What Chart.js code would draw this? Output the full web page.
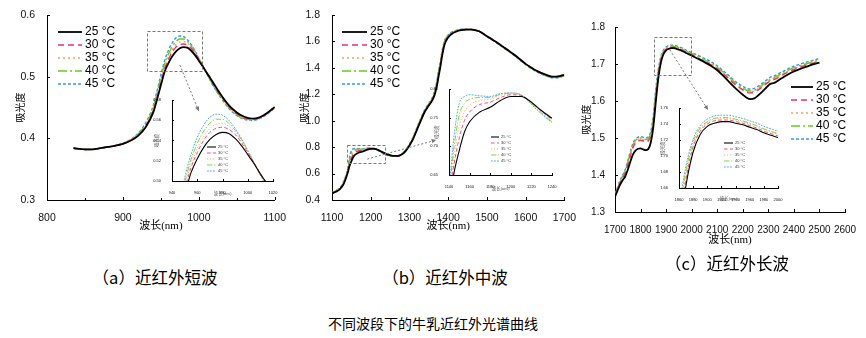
<!DOCTYPE html>
<html>
<head>
<meta charset="utf-8">
<script src="https://cdn.jsdelivr.net/npm/chart.js@4.4.0/dist/chart.umd.min.js"></script>
<style>
  body { margin: 0; background: #fff; }
  #page { position: relative; width: 866px; height: 338px; overflow: hidden; background: #fff; }
  #page canvas { position: absolute; }
  .caption {
    position: absolute;
    transform: translate(-50%, -50%);
    font-family: "Noto Sans CJK SC", sans-serif;
    font-size: 16.5px;
    line-height: 1;
    color: #000;
    white-space: nowrap;
  }
</style>
</head>
<body>
<div id="page">
  <canvas id="chartShort" width="290" height="240" style="left:0;top:0"></canvas>
  <canvas id="chartMid" width="290" height="240" style="left:290px;top:0"></canvas>
  <canvas id="chartLong" width="286" height="250" style="left:580px;top:0"></canvas>
  <canvas id="insetShort" width="135" height="106" style="left:145px;top:92px"></canvas>
  <canvas id="insetMid" width="140" height="110" style="left:420px;top:82px"></canvas>
  <canvas id="insetLong" width="136" height="105" style="left:650px;top:100px"></canvas>
  <div class="caption" style="left:155px;top:277px">（a）近红外短波</div>
  <div class="caption" style="left:445px;top:277px">（b）近红外中波</div>
  <div class="caption" style="left:727px;top:263px">（c）近红外长波</div>
  <div class="caption" style="left:433px;top:323px;font-size:14px">不同波段下的牛乳近红外光谱曲线</div>
</div>
<script>
const TEMPS = ["25 °C", "30 °C", "35 °C", "40 °C", "45 °C"];

// short wave band (nm / absorbance)
const waveShort = [835, 850, 860, 870, 880, 890, 900, 910, 920, 930, 940, 945, 950, 955, 960, 965, 970, 975,
  980, 985, 990, 995, 1000, 1005, 1010, 1015, 1020, 1030, 1040, 1050, 1060, 1070, 1080, 1090, 1100];
const short25 = [0.384, 0.382, 0.382, 0.384, 0.386, 0.388, 0.391, 0.396, 0.404, 0.418, 0.442, 0.463, 0.486, 0.508, 0.522, 0.533, 0.541, 0.546,
  0.548, 0.547, 0.542, 0.535, 0.526, 0.517, 0.507, 0.498, 0.488, 0.469, 0.453, 0.442, 0.435, 0.432, 0.434, 0.441, 0.451];
const short30 = [0.384, 0.382, 0.382, 0.384, 0.386, 0.388, 0.391, 0.396, 0.405, 0.420, 0.445, 0.467, 0.491, 0.513, 0.528, 0.540, 0.548, 0.552,
  0.553, 0.551, 0.546, 0.538, 0.528, 0.518, 0.507, 0.497, 0.486, 0.467, 0.451, 0.440, 0.433, 0.431, 0.433, 0.440, 0.450];
const short35 = [0.384, 0.382, 0.382, 0.384, 0.386, 0.388, 0.391, 0.397, 0.406, 0.421, 0.447, 0.470, 0.494, 0.517, 0.532, 0.544, 0.552, 0.556,
  0.557, 0.554, 0.548, 0.540, 0.529, 0.518, 0.507, 0.496, 0.485, 0.466, 0.450, 0.439, 0.432, 0.430, 0.433, 0.440, 0.450];
const short40 = [0.384, 0.382, 0.382, 0.384, 0.386, 0.388, 0.392, 0.397, 0.407, 0.423, 0.450, 0.473, 0.498, 0.521, 0.537, 0.549, 0.557, 0.561,
  0.561, 0.557, 0.550, 0.541, 0.530, 0.518, 0.506, 0.495, 0.484, 0.465, 0.449, 0.438, 0.432, 0.430, 0.433, 0.440, 0.450];
const short45 = [0.384, 0.382, 0.382, 0.384, 0.386, 0.388, 0.392, 0.398, 0.408, 0.425, 0.453, 0.477, 0.503, 0.526, 0.543, 0.555, 0.563, 0.566,
  0.565, 0.560, 0.552, 0.542, 0.530, 0.518, 0.506, 0.494, 0.483, 0.464, 0.448, 0.437, 0.431, 0.429, 0.432, 0.439, 0.449];

// middle wave band
const waveMid = [1100, 1110, 1120, 1130, 1140, 1145, 1150, 1155, 1160, 1170, 1180, 1190, 1200, 1210, 1220, 1230, 1240, 1250,
  1260, 1270, 1280, 1290, 1300, 1310, 1320, 1330, 1340, 1350, 1360, 1365, 1370, 1375, 1380, 1385, 1390, 1400, 1410, 1420,
  1430, 1440, 1450, 1460, 1470, 1480, 1500, 1520, 1540, 1560, 1580, 1600, 1620, 1640, 1660, 1670, 1680, 1690, 1700];
const mid25 = [0.450, 0.462, 0.480, 0.520, 0.600, 0.655, 0.693, 0.725, 0.743, 0.760, 0.768, 0.780, 0.787, 0.787, 0.777, 0.762, 0.749, 0.740,
  0.734, 0.734, 0.745, 0.770, 0.812, 0.865, 0.935, 1.005, 1.070, 1.115, 1.160, 1.195, 1.250, 1.330, 1.410, 1.500, 1.570, 1.630, 1.658, 1.673,
  1.683, 1.688, 1.690, 1.689, 1.685, 1.677, 1.640, 1.603, 1.563, 1.522, 1.478, 1.430, 1.392, 1.362, 1.340, 1.333, 1.333, 1.340, 1.346];
const mid30 = [0.452, 0.465, 0.484, 0.526, 0.610, 0.670, 0.715, 0.745, 0.760, 0.773, 0.777, 0.785, 0.790, 0.789, 0.777, 0.761, 0.747, 0.738,
  0.733, 0.734, 0.746, 0.772, 0.815, 0.870, 0.940, 1.010, 1.075, 1.120, 1.167, 1.205, 1.262, 1.345, 1.425, 1.515, 1.582, 1.638, 1.663, 1.677,
  1.686, 1.690, 1.692, 1.691, 1.687, 1.679, 1.643, 1.606, 1.566, 1.525, 1.481, 1.433, 1.394, 1.363, 1.340, 1.332, 1.331, 1.337, 1.343];
const mid35 = [0.453, 0.467, 0.487, 0.530, 0.615, 0.685, 0.735, 0.760, 0.772, 0.780, 0.782, 0.789, 0.792, 0.790, 0.776, 0.759, 0.745, 0.736,
  0.732, 0.733, 0.746, 0.773, 0.817, 0.873, 0.944, 1.014, 1.078, 1.123, 1.171, 1.211, 1.270, 1.355, 1.435, 1.523, 1.588, 1.642, 1.666, 1.679,
  1.688, 1.692, 1.693, 1.691, 1.687, 1.678, 1.641, 1.603, 1.563, 1.521, 1.477, 1.429, 1.390, 1.359, 1.336, 1.329, 1.329, 1.335, 1.341];
const mid40 = [0.454, 0.469, 0.490, 0.534, 0.620, 0.700, 0.755, 0.775, 0.782, 0.785, 0.785, 0.791, 0.793, 0.790, 0.775, 0.758, 0.743, 0.734,
  0.731, 0.733, 0.747, 0.775, 0.820, 0.876, 0.948, 1.018, 1.082, 1.127, 1.176, 1.218, 1.278, 1.365, 1.445, 1.531, 1.594, 1.646, 1.669, 1.681,
  1.689, 1.693, 1.693, 1.691, 1.686, 1.677, 1.639, 1.601, 1.560, 1.518, 1.474, 1.426, 1.387, 1.356, 1.333, 1.327, 1.327, 1.333, 1.339];
const mid45 = [0.455, 0.471, 0.493, 0.540, 0.630, 0.720, 0.775, 0.787, 0.790, 0.788, 0.787, 0.792, 0.793, 0.789, 0.773, 0.756, 0.742, 0.733,
  0.730, 0.733, 0.748, 0.777, 0.823, 0.880, 0.952, 1.022, 1.086, 1.131, 1.181, 1.225, 1.286, 1.375, 1.455, 1.540, 1.600, 1.650, 1.672, 1.683,
  1.690, 1.694, 1.694, 1.691, 1.686, 1.676, 1.637, 1.599, 1.558, 1.516, 1.472, 1.424, 1.385, 1.354, 1.331, 1.325, 1.325, 1.331, 1.337];

// long wave band
const waveLong = [1700, 1710, 1720, 1730, 1740, 1750, 1760, 1770, 1780, 1790, 1800, 1810, 1820, 1830, 1840, 1850, 1860, 1870,
  1880, 1890, 1900, 1910, 1920, 1930, 1940, 1950, 1960, 1970, 1980, 1990, 2000, 2025, 2050, 2075, 2100, 2125, 2150, 2175,
  2200, 2215, 2230, 2245, 2260, 2280, 2300, 2310, 2320, 2340, 2360, 2380, 2400, 2425, 2450, 2475, 2500];
const long25 = [1.341, 1.358, 1.374, 1.386, 1.396, 1.414, 1.436, 1.455, 1.466, 1.471, 1.472, 1.469, 1.467, 1.470, 1.488, 1.530, 1.600, 1.664,
  1.705, 1.727, 1.737, 1.741, 1.743, 1.743, 1.741, 1.739, 1.736, 1.733, 1.729, 1.726, 1.723, 1.714, 1.705, 1.695, 1.683, 1.667, 1.649, 1.632,
  1.617, 1.609, 1.605, 1.607, 1.615, 1.628, 1.642, 1.647, 1.648, 1.656, 1.665, 1.673, 1.680, 1.687, 1.693, 1.699, 1.704];
const long30 = [1.345, 1.362, 1.379, 1.392, 1.405, 1.427, 1.452, 1.474, 1.486, 1.492, 1.494, 1.492, 1.489, 1.492, 1.506, 1.545, 1.612, 1.672,
  1.711, 1.731, 1.740, 1.744, 1.745, 1.745, 1.743, 1.741, 1.738, 1.735, 1.731, 1.728, 1.725, 1.716, 1.707, 1.698, 1.687, 1.673, 1.657, 1.642,
  1.630, 1.624, 1.622, 1.624, 1.630, 1.640, 1.651, 1.655, 1.657, 1.664, 1.672, 1.679, 1.685, 1.692, 1.697, 1.702, 1.707];
const long35 = [1.346, 1.364, 1.381, 1.395, 1.408, 1.431, 1.456, 1.478, 1.490, 1.496, 1.498, 1.496, 1.493, 1.496, 1.510, 1.550, 1.620, 1.678,
  1.714, 1.733, 1.742, 1.746, 1.747, 1.747, 1.745, 1.743, 1.740, 1.737, 1.733, 1.730, 1.727, 1.718, 1.709, 1.700, 1.689, 1.675, 1.660, 1.645,
  1.633, 1.627, 1.625, 1.627, 1.633, 1.643, 1.653, 1.658, 1.660, 1.667, 1.675, 1.682, 1.688, 1.694, 1.699, 1.704, 1.709];
const long40 = [1.347, 1.365, 1.383, 1.397, 1.410, 1.434, 1.459, 1.481, 1.493, 1.498, 1.500, 1.498, 1.496, 1.499, 1.513, 1.555, 1.626, 1.682,
  1.717, 1.735, 1.743, 1.747, 1.748, 1.748, 1.746, 1.744, 1.741, 1.738, 1.734, 1.731, 1.728, 1.720, 1.711, 1.702, 1.691, 1.677, 1.662, 1.647,
  1.635, 1.629, 1.627, 1.629, 1.635, 1.645, 1.655, 1.660, 1.662, 1.669, 1.677, 1.684, 1.690, 1.696, 1.701, 1.706, 1.711];
const long45 = [1.349, 1.367, 1.386, 1.400, 1.414, 1.438, 1.463, 1.485, 1.497, 1.502, 1.504, 1.502, 1.500, 1.503, 1.518, 1.562, 1.635, 1.688,
  1.721, 1.738, 1.746, 1.750, 1.751, 1.751, 1.749, 1.747, 1.744, 1.741, 1.737, 1.734, 1.731, 1.723, 1.715, 1.706, 1.695, 1.681, 1.666, 1.651,
  1.640, 1.634, 1.632, 1.634, 1.640, 1.650, 1.660, 1.665, 1.667, 1.674, 1.681, 1.688, 1.694, 1.700, 1.705, 1.710, 1.715];

const LINE_COLORS = ["#000000", "#e8336b", "#f2a35e", "#66cc1a", "#3399dd"];
const LINE_DASHES = [[], [6, 4], [2, 3], [9, 3, 2, 3], [3, 2]];

const NUM_FONT = '"Liberation Sans", sans-serif';
const CJK_FONT = '"Liberation Serif", "Noto Sans CJK SC", serif';

const buildDatasets = (waves, series, k) =>
  series.map((values, i) => ({
    label: TEMPS[i],
    data: waves.map((w, j) => ({ x: w, y: values[j] })),
    borderColor: LINE_COLORS[i],
    borderDash: LINE_DASHES[i].map((d) => d * k),
    borderWidth: (i === 0 ? 1.8 : 1.4) * k,
    pointRadius: 0,
    fill: false,
  }));

// inward tick marks, optional minor ticks on x
const tickMarks = {
  id: "tickMarks",
  afterDraw(chart, args, opts) {
    const { ctx, chartArea } = chart;
    const { x, y } = chart.scales;
    const len = opts.length || 3;
    ctx.save();
    ctx.strokeStyle = "#000";
    ctx.lineWidth = 1;
    ctx.beginPath();
    x.ticks.forEach((t, i) => {
      const px = Math.round(x.getPixelForValue(t.value)) + 0.5;
      ctx.moveTo(px, chartArea.bottom);
      ctx.lineTo(px, chartArea.bottom - len);
      if (opts.minorX && i < x.ticks.length - 1) {
        const mx = Math.round(x.getPixelForValue((t.value + x.ticks[i + 1].value) / 2)) + 0.5;
        ctx.moveTo(mx, chartArea.bottom);
        ctx.lineTo(mx, chartArea.bottom - len * 0.6);
      }
    });
    y.ticks.forEach((t) => {
      const py = Math.round(y.getPixelForValue(t.value)) + 0.5;
      ctx.moveTo(chartArea.left, py);
      ctx.lineTo(chartArea.left + len, py);
    });
    ctx.stroke();
    ctx.restore();
  },
};

// legend drawn with each dataset's own stroke
const lineLegend = {
  id: "lineLegend",
  afterDatasetsDraw(chart, args, opts) {
    if (opts.x === undefined) return;
    const { ctx } = chart;
    ctx.save();
    chart.data.datasets.forEach((ds, i) => {
      const y = opts.y + i * opts.gap;
      ctx.strokeStyle = ds.borderColor;
      ctx.lineWidth = ds.borderWidth;
      ctx.setLineDash(ds.borderDash);
      ctx.beginPath();
      ctx.moveTo(opts.x, y);
      ctx.lineTo(opts.x + opts.len, y);
      ctx.stroke();
      ctx.setLineDash([]);
      ctx.fillStyle = opts.color;
      ctx.font = opts.font;
      ctx.textBaseline = "middle";
      ctx.fillText(ds.label, opts.x + opts.len + opts.space, y);
    });
    ctx.restore();
  },
};

// dashed frame around the magnified region plus a pointer to the inset
const zoomBox = {
  id: "zoomBox",
  afterDatasetsDraw(chart, args, opts) {
    if (!opts.box) return;
    const { ctx } = chart;
    const { x, y } = chart.scales;
    const [bx0, bx1, by0, by1] = opts.box;
    const [ax0, ay0, ax1, ay1] = opts.arrow;
    ctx.save();
    ctx.strokeStyle = "#777";
    ctx.lineWidth = 1;
    ctx.setLineDash([3, 2]);
    const left = x.getPixelForValue(bx0);
    const right = x.getPixelForValue(bx1);
    const top = y.getPixelForValue(by1);
    const bottom = y.getPixelForValue(by0);
    ctx.strokeRect(Math.round(left) + 0.5, Math.round(top) + 0.5, Math.round(right - left), Math.round(bottom - top));
    const sx = x.getPixelForValue(ax0);
    const sy = y.getPixelForValue(ay0);
    const ex = x.getPixelForValue(ax1);
    const ey = y.getPixelForValue(ay1);
    ctx.setLineDash([2, 2]);
    ctx.beginPath();
    ctx.moveTo(sx, sy);
    ctx.lineTo(ex, ey);
    ctx.stroke();
    const ang = Math.atan2(ey - sy, ex - sx);
    ctx.setLineDash([]);
    ctx.fillStyle = "#777";
    ctx.beginPath();
    ctx.moveTo(ex, ey);
    ctx.lineTo(ex - 5 * Math.cos(ang - 0.45), ey - 5 * Math.sin(ang - 0.45));
    ctx.lineTo(ex - 5 * Math.cos(ang + 0.45), ey - 5 * Math.sin(ang + 0.45));
    ctx.closePath();
    ctx.fill();
    ctx.restore();
  },
};

const makeChart = (id, waves, series, cfg) =>
  new Chart(document.getElementById(id), {
    type: "line",
    data: { datasets: buildDatasets(waves, series, cfg.k) },
    options: {
      responsive: false,
      animation: false,
      events: [],
      layout: { padding: cfg.padding },
      elements: { line: { cubicInterpolationMode: "monotone" } },
      plugins: {
        legend: { display: false },
        tooltip: { enabled: false },
        tickMarks: cfg.ticks,
        lineLegend: cfg.legend,
        zoomBox: cfg.zoom || {},
      },
      scales: {
        x: {
          type: "linear",
          min: cfg.x[0],
          max: cfg.x[1],
          afterFit: (s) => { s.height = cfg.xHeight; },
          grid: { display: false },
          border: { display: true, color: "#000", width: 1 },
          ticks: {
            stepSize: cfg.x[2],
            autoSkip: false,
            maxRotation: 0,
            padding: cfg.tickPad[0],
            color: "#111",
            font: { family: NUM_FONT, size: cfg.tickSize },
            callback: (v) => String(v),
          },
          title: {
            display: true,
            text: "波长(nm)",
            color: cfg.titleColor,
            font: { family: CJK_FONT, size: cfg.titleSize[0] },
            padding: { top: 0, bottom: cfg.titlePad[0] },
          },
        },
        y: {
          type: "linear",
          min: cfg.y[0],
          max: cfg.y[1],
          afterFit: (s) => { s.width = cfg.yWidth; },
          grid: { display: false },
          border: { display: true, color: "#000", width: 1 },
          ticks: {
            stepSize: cfg.y[2],
            autoSkip: false,
            padding: cfg.tickPad[1],
            color: "#111",
            font: { family: NUM_FONT, size: cfg.tickSize },
            callback: (v) => v.toFixed(cfg.y[3]),
          },
          title: {
            display: true,
            text: "吸光度",
            color: cfg.titleColor,
            font: { family: CJK_FONT, size: cfg.titleSize[1] },
            padding: { top: cfg.titlePad[1], bottom: 0 },
          },
        },
      },
    },
    plugins: [tickMarks, lineLegend, zoomBox],
  });

const mainLegend = (x, y, len) => ({
  x, y, len, gap: 13, space: 3, color: "#000", font: '12px ' + NUM_FONT,
});
const insetLegend = (x, y, len) => ({
  x, y, len, gap: 6, space: 2, color: "#333", font: '4px ' + NUM_FONT,
});

const shortSeries = [short25, short30, short35, short40, short45];
const midSeries = [mid25, mid30, mid35, mid40, mid45];
const longSeries = [long25, long30, long35, long40, long45];

makeChart("chartShort", waveShort, shortSeries, {
  k: 1, x: [800, 1100, 100], y: [0.3, 0.6, 0.1, 1],
  padding: { top: 15, right: 12, left: 0, bottom: 0 }, xHeight: 40, yWidth: 47,
  tickPad: [4, 4], tickSize: 10.5, titleSize: [11, 10], titlePad: [7.4, 15], titleColor: "#000",
  ticks: { length: 3, minorX: true },
  legend: mainLegend(58, 32, 24),
  zoom: { box: [932, 1005, 0.509, 0.574], arrow: [975, 0.519, 1000, 0.444] },
});

makeChart("chartMid", waveMid, midSeries, {
  k: 1, x: [1100, 1700, 100], y: [0.4, 1.8, 0.2, 1],
  padding: { top: 15, right: 12, left: 0, bottom: 0 }, xHeight: 40, yWidth: 42,
  tickPad: [4, 4], tickSize: 10.5, titleSize: [11, 10], titlePad: [7.4, 9], titleColor: "#000",
  ticks: { length: 3 },
  legend: mainLegend(52, 32, 25),
  zoom: { box: [1138, 1235, 0.68, 0.816], arrow: [1191, 0.71, 1369, 0.854] },
});

makeChart("chartLong", waveLong, longSeries, {
  k: 1, x: [1700, 2600, 100], y: [1.3, 1.8, 0.1, 1],
  padding: { top: 27, right: 21, left: 0, bottom: 0 }, xHeight: 38, yWidth: 35,
  tickPad: [4, 2], tickSize: 10, titleSize: [11, 10], titlePad: [3.4, 1], titleColor: "#000",
  ticks: { length: 3 },
  legend: mainLegend(211, 87, 22),
  zoom: { box: [1853, 1996, 1.671, 1.773], arrow: [1915, 1.738, 2064, 1.576] },
});

makeChart("insetShort", waveShort, shortSeries, {
  k: 0.6, x: [940, 1020, 20], y: [0.5, 0.58, 0.02, 2],
  padding: { top: 8, right: 7, left: 0, bottom: 0 }, xHeight: 17, yWidth: 27,
  tickPad: [1.5, 3], tickSize: 4, titleSize: [4.5, 4.5], titlePad: [1.2, 9.3], titleColor: "#555",
  ticks: { length: 2 },
  legend: insetLegend(62, 55, 9),
});

makeChart("insetMid", waveMid, midSeries, {
  k: 0.6, x: [1140, 1240, 20], y: [0.65, 0.8, 0.05, 2],
  padding: { top: 7, right: 8, left: 0, bottom: 0 }, xHeight: 17, yWidth: 29,
  tickPad: [1.5, 3], tickSize: 4, titleSize: [4.5, 4.5], titlePad: [0.3, 14], titleColor: "#555",
  ticks: { length: 2 },
  legend: insetLegend(71, 55, 8),
});

makeChart("insetLong", waveLong, longSeries, {
  k: 0.6, x: [1860, 2000, 20], y: [1.66, 1.76, 0.02, 2],
  padding: { top: 8, right: 8, left: 0, bottom: 0 }, xHeight: 17, yWidth: 29,
  tickPad: [1.5, 3], tickSize: 4, titleSize: [4.5, 4.5], titlePad: [3, 10.3], titleColor: "#555",
  ticks: { length: 2 },
  legend: insetLegend(74, 43, 9),
});
</script>
</body>
</html>
